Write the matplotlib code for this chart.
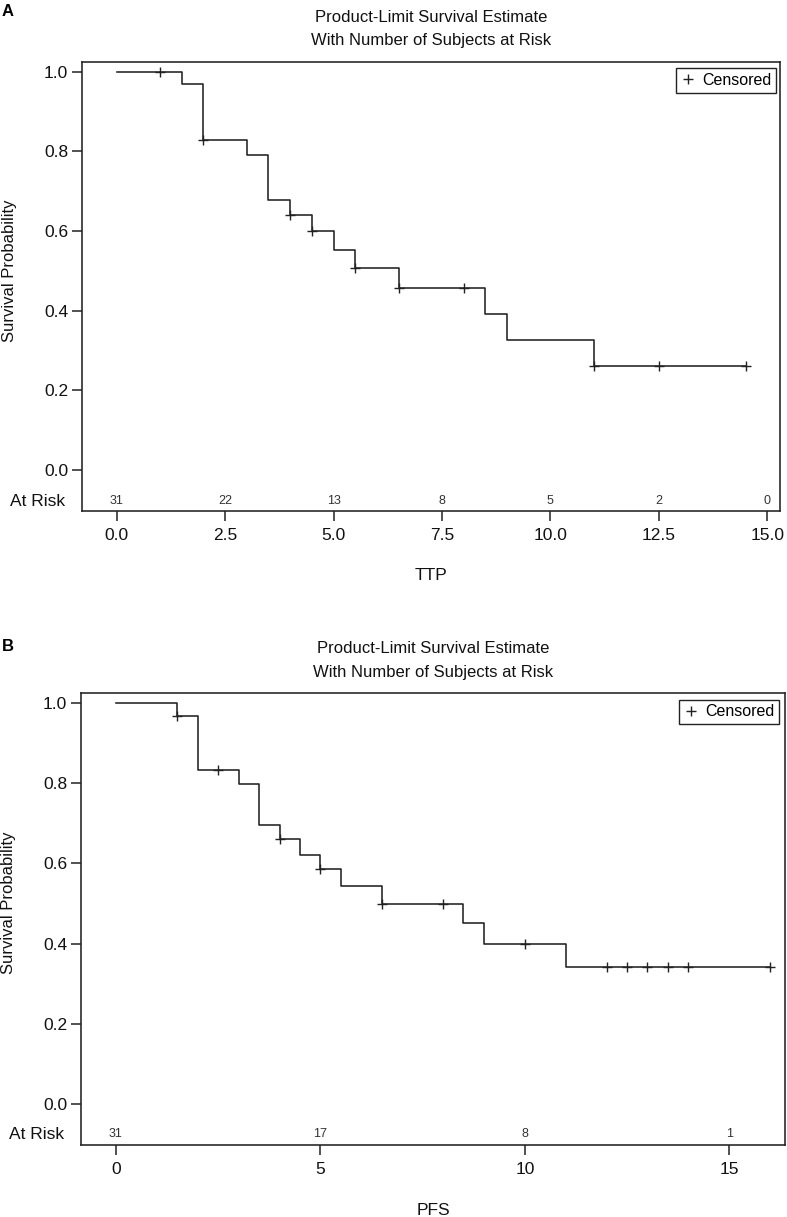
import numpy as np
import matplotlib
matplotlib.use("Agg")
import matplotlib.pyplot as plt
from matplotlib.lines import Line2D

plt.rcParams['font.family'] = ['Liberation Sans', 'DejaVu Sans']

# Panel A - time to progression
ttp_times = [0.0, 1.5, 2.0, 3.0, 3.5, 4.0, 4.5, 5.0, 5.5, 6.5, 8.5, 9.0, 11.0, 14.5]
ttp_surv = [1.0, 0.968, 0.827, 0.790, 0.677, 0.639, 0.600, 0.553, 0.507, 0.456, 0.391, 0.326, 0.261, 0.261]
ttp_censored = [1.0, 2.0, 4.0, 4.5, 5.5, 6.5, 8.0, 11.0, 12.5, 14.5]
ttp_ticks = [0.0, 2.5, 5.0, 7.5, 10.0, 12.5, 15.0]
ttp_tick_labels = ['0.0', '2.5', '5.0', '7.5', '10.0', '12.5', '15.0']
ttp_at_risk = [31, 22, 13, 8, 5, 2, 0]

# Panel B - progression free survival
pfs_times = [0.0, 1.5, 2.0, 3.0, 3.5, 4.0, 4.5, 5.0, 5.5, 6.5, 8.5, 9.0, 11.0, 16.0]
pfs_surv = [1.0, 0.967, 0.833, 0.799, 0.695, 0.660, 0.622, 0.586, 0.545, 0.500, 0.452, 0.400, 0.343, 0.343]
pfs_censored = [1.5, 2.5, 4.0, 5.0, 6.5, 8.0, 10.0, 12.0, 12.5, 13.0, 13.5, 14.0, 16.0]
pfs_ticks = [0, 5, 10, 15]
pfs_tick_labels = ['0', '5', '10', '15']
pfs_at_risk = [31, 17, 8, 1]

y_ticks = [0.0, 0.2, 0.4, 0.6, 0.8, 1.0]
title_lines = ['Product-Limit Survival Estimate', 'With Number of Subjects at Risk']

W, H = 787, 1217
INK = '#222222'


def px_box(left, right, top, bottom):
    return [left / W, 1 - bottom / H, (right - left) / W, (bottom - top) / H]


def km_panel(ax, times, surv, censored, ticks, tick_labels, at_risk, xlabel,
             xlim, ylim, risk_y, legend_anchor):
    ax.step(times, surv, where='post', color=INK, lw=1.15)
    # censored marks sit on the curve at their time
    idx = np.searchsorted(times, censored, side='right') - 1
    cens_y = np.asarray(surv)[idx]
    ax.plot(censored, cens_y, ls='none', marker='+', ms=7, mew=1.0, color=INK)

    ax.set_xlim(*xlim)
    ax.set_ylim(*ylim)
    ax.set_xticks(ticks)
    ax.set_xticklabels(tick_labels)
    ax.set_yticks(y_ticks)
    ax.set_yticklabels([f'{v:.1f}' for v in y_ticks])
    ax.tick_params(axis='both', direction='out', length=7, width=1.1, color=INK,
                   labelsize=12.5, labelcolor='#111111')
    ax.tick_params(axis='x', pad=5)
    ax.tick_params(axis='y', pad=3)
    for s in ax.spines.values():
        s.set_linewidth(1.15)
        s.set_color(INK)

    for t, n in zip(ticks, at_risk):
        ax.text(t, risk_y, str(n), ha='center', va='center', fontsize=9, color='#333333')
    ax.text(-0.024, risk_y, 'At Risk', transform=ax.get_yaxis_transform(),
            ha='right', va='center', fontsize=12.5, color='#111111')

    ax.set_xlabel(xlabel, fontsize=12.5, color='#111111')
    ax.xaxis.set_label_coords(0.5, -0.128)
    ax.set_ylabel('Survival Probability', fontsize=12, color='#111111')
    ax.yaxis.set_label_coords(-0.093, 0.535)

    handle = Line2D([], [], ls='none', marker='+', ms=7, mew=1.0, color=INK)
    leg = ax.legend([handle], ['Censored'], loc='upper right', bbox_to_anchor=legend_anchor,
                    borderaxespad=0, fancybox=False, fontsize=11.5, handlelength=0.8,
                    handletextpad=0.5, borderpad=0.3, framealpha=1)
    leg.get_frame().set_edgecolor(INK)
    leg.get_frame().set_linewidth(1.0)


fig = plt.figure(figsize=(W / 100, H / 100), dpi=100)

axA = fig.add_axes(px_box(82, 780, 62, 511))
km_panel(axA, ttp_times, ttp_surv, ttp_censored, ttp_ticks, ttp_tick_labels, ttp_at_risk,
         'TTP', (-0.80, 15.294), (-0.103, 1.024), -0.078, (0.9943, 0.9866))

axB = fig.add_axes(px_box(81, 785, 693, 1145))
km_panel(axB, pfs_times, pfs_surv, pfs_censored, pfs_ticks, pfs_tick_labels, pfs_at_risk,
         'PFS', (-0.856, 16.364), (-0.102, 1.025), -0.075, (0.9915, 0.9852))

# panel letters and two-line titles
fig.text(2 / W, 1 - 16 / H, 'A', fontsize=12, fontweight='bold', va='baseline', ha='left')
fig.text(2 / W, 1 - 651 / H, 'B', fontsize=12, fontweight='bold', va='baseline', ha='left')
for cx, baselines in [(431, (22, 45)), (433, (653, 677))]:
    for line, yb in zip(title_lines, baselines):
        fig.text(cx / W, 1 - yb / H, line, fontsize=12, ha='center', va='baseline',
                 color='#111111')

fig.savefig('out.png', dpi=100)
